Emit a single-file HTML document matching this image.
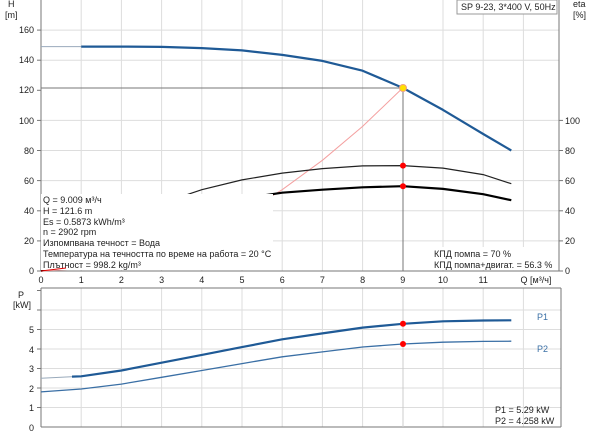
<!DOCTYPE html>
<html><head><meta charset="utf-8"><style>
body{margin:0;background:#fff}
svg{display:block;font-family:"Liberation Sans","Noto Sans CJK SC",sans-serif;font-size:9px}
</style></head><body>
<svg width="600" height="434" viewBox="0 0 600 434">
<g stroke="#ddd" stroke-width="1">
<line x1="81.2" y1="0" x2="81.2" y2="271"/><line x1="121.4" y1="0" x2="121.4" y2="271"/><line x1="161.6" y1="0" x2="161.6" y2="271"/><line x1="201.8" y1="0" x2="201.8" y2="271"/><line x1="242" y1="0" x2="242" y2="271"/><line x1="282.2" y1="0" x2="282.2" y2="271"/><line x1="322.4" y1="0" x2="322.4" y2="271"/><line x1="362.6" y1="0" x2="362.6" y2="271"/><line x1="443" y1="0" x2="443" y2="271"/><line x1="483.2" y1="0" x2="483.2" y2="271"/><line x1="523.4" y1="0" x2="523.4" y2="271"/>
<line x1="41" y1="240.9" x2="559" y2="240.9"/><line x1="41" y1="210.8" x2="559" y2="210.8"/><line x1="41" y1="180.6" x2="559" y2="180.6"/><line x1="41" y1="150.5" x2="559" y2="150.5"/><line x1="41" y1="120.4" x2="559" y2="120.4"/><line x1="41" y1="60.2" x2="559" y2="60.2"/><line x1="41" y1="30.1" x2="559" y2="30.1"/>
</g>
<g stroke="#777" stroke-width="1" fill="none">
<line x1="41" y1="0" x2="41" y2="271"/><line x1="559" y1="0" x2="559" y2="271"/><line x1="41" y1="271" x2="559" y2="271"/>
<line x1="41" y1="88" x2="403" y2="88"/><line x1="403" y1="88" x2="403" y2="271"/>
</g>
<polyline fill="none" stroke="#f4a0a0" stroke-width="1" points="41,271 81.2,268.7 121.4,262 161.6,250.7 201.8,234.9 242,214.5 282.2,189.7 322.4,160.3 362.6,126.4 402.8,87.9"/>
<polyline fill="none" stroke="#222" stroke-width="1.2" points="41,271 81.2,243.9 121.4,221.3 161.6,203.2 201.8,189.7 242,179.9 282.2,173.1 322.4,168.6 362.6,165.9 402.8,165.6 443,168.1 483.2,174.6 511.3,183.7"/>
<polyline fill="none" stroke="#000" stroke-width="2.2" points="41,271 81.2,251.4 121.4,233.4 161.6,218.3 201.8,207 242,198.7 282.2,192.7 322.4,189.7 362.6,187.3 402.8,186.2 443,188.9 483.2,194.2 511.3,200.2"/>
<polyline fill="none" stroke="#9ab" stroke-width="1" points="41,46.6 81.2,46.6"/>
<polyline fill="none" stroke="#1f5a96" stroke-width="2.2" stroke-linejoin="round" points="81.2,46.6 121.4,46.6 161.6,46.9 201.8,48.1 242,50.4 282.2,54.9 322.4,60.9 362.6,70.7 402.8,87.9 443,109.9 483.2,134 511.3,150.5"/>
<rect x="41" y="194" width="232" height="76" fill="#fff"/>
<rect x="430" y="247" width="127" height="23" fill="#fff"/>
<g fill="#222">
<text x="43" y="203">Q = 9.009 м³/ч</text>
<text x="43" y="214">H = 121.6 m</text>
<text x="43" y="225">Es = 0.5873 kWh/m³</text>
<text x="43" y="235">n = 2902 rpm</text>
<text x="43" y="246">Изпомпвана течност = Вода</text>
<text x="43" y="257">Температура на течността по време на работа = 20 °C</text>
<text x="43" y="268">Плътност = 998.2 kg/m³</text>
<text x="434" y="257">КПД помпа = 70 %</text>
<text x="434" y="268">КПД помпа+двигат. = 56.3 %</text>
</g>
<polyline fill="none" stroke="#d00" stroke-width="1" points="41,271 66,268"/>
<circle cx="403" cy="88" r="3.5" fill="#ffe000" stroke="#f0a080" stroke-width="1"/>
<circle cx="403" cy="165.6" r="3" fill="#f00"/>
<circle cx="403" cy="186.2" r="3" fill="#f00"/>
<rect x="457" y="0" width="100" height="14" fill="#fff" stroke="#999"/>
<text x="461" y="10" fill="#222">SP 9-23, 3*400 V, 50Hz</text>
<g fill="#222" text-anchor="end">
<text x="8" y="7" text-anchor="start">H</text><text x="5" y="18" text-anchor="start">[m]</text>
<text x="34" y="33">160</text><text x="34" y="63">140</text><text x="34" y="93">120</text><text x="34" y="124">100</text><text x="34" y="154">80</text><text x="34" y="184">60</text><text x="34" y="214">40</text><text x="34" y="244">20</text><text x="34" y="274">0</text>
</g>
<g stroke="#777"><line x1="37" y1="30.1" x2="41" y2="30.1"/><line x1="37" y1="60.2" x2="41" y2="60.2"/><line x1="37" y1="90.3" x2="41" y2="90.3"/><line x1="37" y1="120.4" x2="41" y2="120.4"/><line x1="37" y1="150.5" x2="41" y2="150.5"/><line x1="37" y1="180.6" x2="41" y2="180.6"/><line x1="37" y1="210.8" x2="41" y2="210.8"/><line x1="37" y1="240.9" x2="41" y2="240.9"/><line x1="37" y1="271" x2="41" y2="271"/>
<line x1="559" y1="120.4" x2="563" y2="120.4"/><line x1="559" y1="150.5" x2="563" y2="150.5"/><line x1="559" y1="180.6" x2="563" y2="180.6"/><line x1="559" y1="210.8" x2="563" y2="210.8"/><line x1="559" y1="240.9" x2="563" y2="240.9"/><line x1="559" y1="271" x2="563" y2="271"/></g>
<g fill="#222">
<text x="573" y="7">eta</text><text x="573" y="18">[%]</text>
<text x="565" y="124">100</text><text x="565" y="154">80</text><text x="565" y="184">60</text><text x="565" y="214">40</text><text x="565" y="244">20</text><text x="565" y="274">0</text>
</g>
<g fill="#222" text-anchor="middle">
<text x="41" y="283">0</text><text x="81.2" y="283">1</text><text x="121.4" y="283">2</text><text x="161.6" y="283">3</text><text x="201.8" y="283">4</text><text x="242" y="283">5</text><text x="282.2" y="283">6</text><text x="322.4" y="283">7</text><text x="362.6" y="283">8</text><text x="402.8" y="283">9</text><text x="443" y="283">10</text><text x="483.2" y="283">11</text>
<text x="536" y="283">Q [м³/ч]</text>
</g>
<g stroke="#ddd">
<line x1="81.2" y1="288" x2="81.2" y2="427"/><line x1="121.4" y1="288" x2="121.4" y2="427"/><line x1="161.6" y1="288" x2="161.6" y2="427"/><line x1="201.8" y1="288" x2="201.8" y2="427"/><line x1="242" y1="288" x2="242" y2="427"/><line x1="282.2" y1="288" x2="282.2" y2="427"/><line x1="322.4" y1="288" x2="322.4" y2="427"/><line x1="362.6" y1="288" x2="362.6" y2="427"/><line x1="443" y1="288" x2="443" y2="427"/><line x1="483.2" y1="288" x2="483.2" y2="427"/><line x1="523.4" y1="288" x2="523.4" y2="427"/>
<line x1="41" y1="407.5" x2="561" y2="407.5"/><line x1="41" y1="388" x2="561" y2="388"/><line x1="41" y1="368.5" x2="561" y2="368.5"/><line x1="41" y1="349" x2="561" y2="349"/><line x1="41" y1="329.5" x2="561" y2="329.5"/><line x1="41" y1="310" x2="561" y2="310"/>
</g>
<g stroke="#777" fill="none"><line x1="41" y1="288" x2="561" y2="288"/><line x1="41" y1="288" x2="41" y2="427"/><line x1="561" y1="288" x2="561" y2="427"/><line x1="41" y1="427" x2="561" y2="427"/><line x1="403" y1="288" x2="403" y2="427" stroke="#ccc"/>
<line x1="37" y1="407.5" x2="41" y2="407.5"/><line x1="37" y1="388" x2="41" y2="388"/><line x1="37" y1="368.5" x2="41" y2="368.5"/><line x1="37" y1="349" x2="41" y2="349"/><line x1="37" y1="329.5" x2="41" y2="329.5"/><line x1="37" y1="310" x2="41" y2="310"/><line x1="37" y1="290.5" x2="41" y2="290.5"/></g>
<polyline fill="none" stroke="#9ab" stroke-width="1" points="41,378.3 81.2,376.3"/>
<polyline fill="none" stroke="#1f5a96" stroke-width="2.2" stroke-linejoin="round" points="72,376.6 81.2,376.3 121.4,370.5 161.6,362.7 201.8,354.9 242,347.1 282.2,339.3 322.4,333.4 362.6,327.6 402.8,323.8 443,321.3 483.2,320.5 511.3,320.3"/>
<polyline fill="none" stroke="#3a6fa5" stroke-width="1.3" stroke-linejoin="round" points="41,391.9 81.2,389 121.4,384.1 161.6,377.3 201.8,370.5 242,363.6 282.2,356.8 322.4,351.9 362.6,347 402.8,344 443,342.2 483.2,341.4 511.3,341.2"/>
<circle cx="403" cy="323.8" r="3" fill="#f00"/><circle cx="403" cy="344" r="3" fill="#f00"/>
<g fill="#222">
<text x="18" y="298">P</text><text x="13" y="308">[kW]</text>
<g text-anchor="end"><text x="34" y="333">5</text><text x="34" y="353">4</text><text x="34" y="372">3</text><text x="34" y="392">2</text><text x="34" y="411">1</text><text x="34" y="431">0</text></g>
<text x="495" y="413">P1 = 5.29 kW</text><text x="495" y="424">P2 = 4.258 kW</text>
</g>
<text x="537" y="320" fill="#3a6fa5">P1</text><text x="537" y="352" fill="#3a6fa5">P2</text>
</svg>
</body></html>
